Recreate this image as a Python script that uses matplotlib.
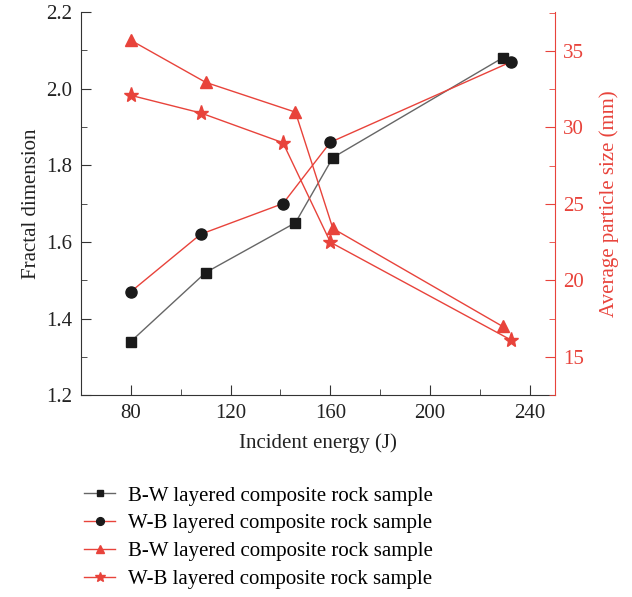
import numpy as np
import matplotlib.pyplot as plt
from matplotlib.ticker import MultipleLocator

plt.rcParams['font.family'] = ['Liberation Serif', 'DejaVu Serif']

# Fractal dimension (left axis)
xBW = [80, 110, 146, 161, 229]
fdBW = [1.34, 1.52, 1.65, 1.82, 2.08]
xWB = [80, 108, 141, 160, 232.5]
fdWB = [1.47, 1.62, 1.70, 1.86, 2.07]

# Average particle size (right axis)
sizeBW = [35.7, 32.95, 31.0, 23.4, 17.0]
sizeWB = [32.1, 30.95, 29.0, 22.5, 16.1]

etiqueta = ["B-W layered composite rock sample", "W-B layered composite rock sample"]

rojo = "#e8433b"
negro = "#1a1a1a"

fig = plt.figure(figsize=(6.32, 5.97), dpi=100)
ax = fig.add_axes([0.128, 0.338, 0.75, 0.642])
ax2 = ax.twinx()

l1, = ax.plot(xBW, fdBW, color="#666666", lw=1, marker="s", ms=7,
              mfc=negro, mec=negro, label=etiqueta[0])
l2, = ax.plot(xWB, fdWB, color=rojo, lw=1, marker="o", ms=8,
              mfc=negro, mec=negro, label=etiqueta[1])
l3, = ax2.plot(xBW, sizeBW, color=rojo, lw=1, marker="^", ms=9,
               mfc=rojo, mec=rojo, label=etiqueta[0])
l4, = ax2.plot(xWB, sizeWB, color=rojo, lw=1, marker="*", ms=11,
               mfc=rojo, mec=rojo, label=etiqueta[1])

ax.set_xlim(60, 250)
ax.set_ylim(1.2, 2.2)
ax2.set_ylim(12.5, 37.55)

ax.xaxis.set_major_locator(MultipleLocator(40))
ax.xaxis.set_minor_locator(MultipleLocator(20))
ax.yaxis.set_major_locator(MultipleLocator(0.2))
ax.yaxis.set_minor_locator(MultipleLocator(0.1))
ax2.yaxis.set_major_locator(MultipleLocator(5))
ax2.yaxis.set_minor_locator(MultipleLocator(2.5))
ax2.set_yticks([15, 20, 25, 30, 35])

for a in (ax, ax2):
    a.spines["top"].set_visible(False)
    a.tick_params(which="both", direction="in", labelsize=15, pad=6)
    a.tick_params(which="major", length=7)
    a.tick_params(which="minor", length=4)
ax.spines["right"].set_visible(False)
ax2.spines["left"].set_visible(False)
ax2.spines["bottom"].set_visible(False)
ax2.spines["right"].set_color(rojo)
ax2.tick_params(axis="y", which="both", colors=rojo)
for s in ("left", "bottom"):
    ax.spines[s].set_color("#333333")
ax.tick_params(which="both", colors="#333333", labelcolor="#222222")

ax.set_xlabel("Incident energy (J)", fontsize=15, color="#222222", labelpad=8)
ax.set_ylabel("Fractal dimension", fontsize=15, color="#222222", labelpad=4)
ax2.set_ylabel("Average particle size (mm)", fontsize=15, color=rojo, labelpad=11)

fig.legend(handles=[l1, l2, l3, l4], loc="upper left", bbox_to_anchor=(0.12, 0.2),
           frameon=False, fontsize=15, handlelength=1.5, handletextpad=0.6,
           labelspacing=0.4, borderaxespad=0, markerscale=0.7)

fig.savefig("out.png", dpi=100)
